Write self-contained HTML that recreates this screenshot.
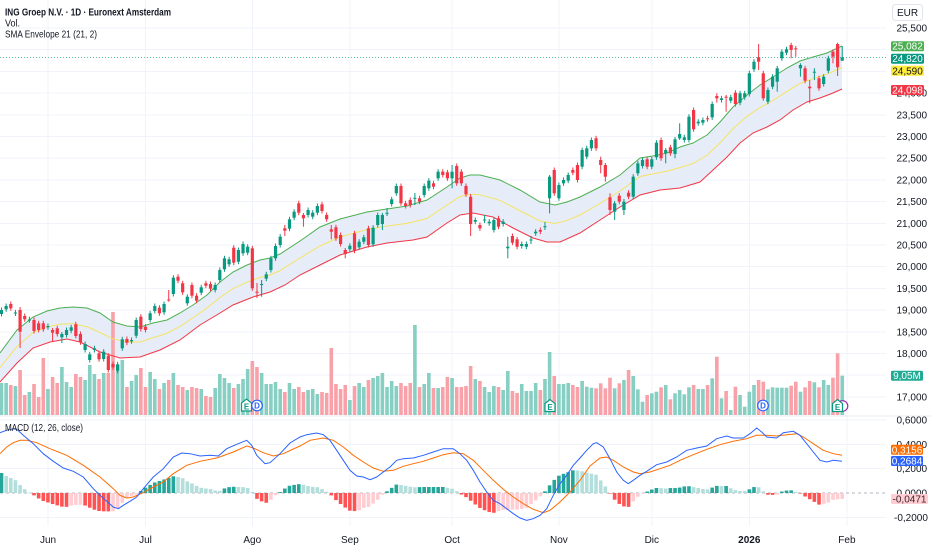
<!DOCTYPE html>
<html><head><meta charset="utf-8">
<style>
html,body{margin:0;padding:0;background:#fff;}
svg{display:block;font-family:"Liberation Sans",Arial,sans-serif;}
</style></head>
<body>
<svg id="c" width="932" height="550" viewBox="0 0 932 550" xmlns="http://www.w3.org/2000/svg">
<rect width="932" height="550" fill="#fff"/>
<g id="grid" stroke="#f0f3fa" stroke-width="1" shape-rendering="crispEdges">
<line x1="0" x2="886" y1="28" y2="28"/><line x1="0" x2="886" y1="49.7" y2="49.7"/><line x1="0" x2="886" y1="71.4" y2="71.4"/><line x1="0" x2="886" y1="93.1" y2="93.1"/><line x1="0" x2="886" y1="114.8" y2="114.8"/><line x1="0" x2="886" y1="136.5" y2="136.5"/><line x1="0" x2="886" y1="158.2" y2="158.2"/><line x1="0" x2="886" y1="179.9" y2="179.9"/><line x1="0" x2="886" y1="201.6" y2="201.6"/><line x1="0" x2="886" y1="223.3" y2="223.3"/><line x1="0" x2="886" y1="245" y2="245"/><line x1="0" x2="886" y1="266.7" y2="266.7"/><line x1="0" x2="886" y1="288.4" y2="288.4"/><line x1="0" x2="886" y1="310.1" y2="310.1"/><line x1="0" x2="886" y1="331.8" y2="331.8"/><line x1="0" x2="886" y1="353.5" y2="353.5"/><line x1="0" x2="886" y1="375.2" y2="375.2"/><line x1="0" x2="886" y1="396.9" y2="396.9"/>
<line x1="0" x2="886" y1="420.1" y2="420.1"/><line x1="0" x2="886" y1="444.4" y2="444.4"/><line x1="0" x2="886" y1="468.7" y2="468.7"/><line x1="0" x2="886" y1="517.3" y2="517.3"/>
<line x1="48" x2="48" y1="0" y2="526"/><line x1="145.5" x2="145.5" y1="0" y2="526"/><line x1="252.3" x2="252.3" y1="0" y2="526"/><line x1="349.9" x2="349.9" y1="0" y2="526"/><line x1="452.1" x2="452.1" y1="0" y2="526"/><line x1="558.9" x2="558.9" y1="0" y2="526"/><line x1="651.8" x2="651.8" y1="0" y2="526"/><line x1="749.3" x2="749.3" y1="0" y2="526"/><line x1="846.9" x2="846.9" y1="0" y2="526"/>
</g>
<line x1="0" x2="932" y1="416" y2="416" stroke="#e8ebf2" stroke-width="1"/>
<g id="band"></g>
<g id="vol"></g>
<g id="env"></g>
<line x1="0" x2="886" y1="57.5" y2="57.5" stroke="#5bbcaa" stroke-width="1" stroke-dasharray="1 2"/>
<g id="candles"></g>
<line x1="0" x2="886" y1="493" y2="493" stroke="#b2b5be" stroke-width="1" stroke-dasharray="3 3"/>
<g id="hist"></g>
<g id="macd"></g>

<!-- markers -->
<g font-size="8" font-weight="bold" text-anchor="middle">
<path d="M241.5,411 L241.5,403 L246.5,399 L251.5,403 L251.5,411 Z" fill="#fff" stroke="#089981" stroke-width="1.2"/>
<text x="246.5" y="409.3" fill="#089981">E</text>
<circle cx="257" cy="405.5" r="5.3" fill="#fff" stroke="#2962ff" stroke-width="1.2"/>
<text x="257" y="408.4" fill="#2962ff">D</text>
<path d="M545,411.5 L545,403.5 L550,399.5 L555,403.5 L555,411.5 Z" fill="#fff" stroke="#089981" stroke-width="1.2"/>
<text x="550" y="409.8" fill="#089981">E</text>
<circle cx="763" cy="405.5" r="5.3" fill="#fff" stroke="#2962ff" stroke-width="1.2"/>
<text x="763" y="408.4" fill="#2962ff">D</text>
<circle cx="842.5" cy="406" r="5.3" fill="#fff" stroke="#9c27b0" stroke-width="1.2"/>
<path d="M832.5,411.5 L832.5,403.5 L837.5,399.5 L842.5,403.5 L842.5,411.5 Z" fill="#fff" stroke="#089981" stroke-width="1.2"/>
<text x="837.5" y="409.8" fill="#089981">E</text>
</g>

<!-- legend -->
<g fill="#131722" font-size="10.5">
<text x="5" y="15.5" textLength="166" lengthAdjust="spacingAndGlyphs" font-weight="bold" style="font-weight:600">ING Groep N.V. · 1D · Euronext Amsterdam</text>
<text x="5" y="26.7" textLength="15" lengthAdjust="spacingAndGlyphs">Vol.</text>
<text x="5" y="37.7" textLength="92" lengthAdjust="spacingAndGlyphs">SMA Envelope 21 (21, 2)</text>
<text x="5" y="431" textLength="78" lengthAdjust="spacingAndGlyphs">MACD (12, 26, close)</text>
</g>

<!-- right axis -->
<rect x="892.5" y="4.5" width="30" height="16" rx="3" fill="#fff" stroke="#e0e3eb"/>
<text x="907.5" y="16" font-size="10" fill="#131722" text-anchor="middle">EUR</text>
<g fill="#131722" font-size="10">
<text x="896.5" y="31.5">25,500</text>
<text x="896.5" y="96.6">24,000</text>
<text x="896.5" y="118.3">23,500</text>
<text x="896.5" y="140">23,000</text>
<text x="896.5" y="161.7">22,500</text>
<text x="896.5" y="183.4">22,000</text>
<text x="896.5" y="205.1">21,500</text>
<text x="896.5" y="226.8">21,000</text>
<text x="896.5" y="248.5">20,500</text>
<text x="896.5" y="270.2">20,000</text>
<text x="896.5" y="291.9">19,500</text>
<text x="896.5" y="313.6">19,000</text>
<text x="896.5" y="335.3">18,500</text>
<text x="896.5" y="357">18,000</text>
<text x="896.5" y="400.4">17,000</text>
<text x="896.5" y="423.6">0,6000</text>
<text x="896.5" y="447.9">0,4000</text>
<text x="896.5" y="472.2">0,2000</text>
<text x="896.5" y="496.5">0,0000</text>
<text x="894" y="520.8">-0,2000</text>
</g>
<g font-size="10">
<rect x="891" y="41.2" width="33" height="10" rx="1.5" fill="#4caf50"/><text x="907.5" y="49.7" fill="#fff" text-anchor="middle">25,082</text>
<rect x="891" y="53.7" width="33" height="10" rx="1.5" fill="#089981"/><text x="907.5" y="62.2" fill="#fff" text-anchor="middle">24,820</text>
<rect x="891" y="65.8" width="33" height="10" rx="1.5" fill="#ffeb3b"/><text x="907.5" y="74.3" fill="#131722" text-anchor="middle">24,590</text>
<rect x="891" y="85" width="33" height="10" rx="1.5" fill="#f23645"/><text x="907.5" y="93.5" fill="#fff" text-anchor="middle">24,098</text>
<rect x="891" y="370.7" width="32" height="10" rx="1.5" fill="#22ab94"/><text x="907" y="379.2" fill="#fff" text-anchor="middle">9,05M</text>
<rect x="891" y="444.8" width="32" height="10" rx="1.5" fill="#ff6d00"/><text x="907" y="453.3" fill="#fff" text-anchor="middle">0,3156</text>
<rect x="891" y="456" width="32" height="10" rx="1.5" fill="#2962ff"/><text x="907" y="464.5" fill="#fff" text-anchor="middle">0,2684</text>
<rect x="891" y="494" width="37" height="10" rx="1.5" fill="#ffcdd2"/><text x="909.5" y="502.5" fill="#3a2a2c" text-anchor="middle">-0,0471</text>
</g>

<!-- time axis -->
<g fill="#131722" font-size="10" text-anchor="middle">
<text x="48" y="543">Jun</text>
<text x="145.5" y="543">Jul</text>
<text x="252.3" y="543">Ago</text>
<text x="349.9" y="543">Sep</text>
<text x="452.1" y="543">Oct</text>
<text x="558.9" y="543">Nov</text>
<text x="651.8" y="543">Dic</text>
<text x="749.3" y="543" font-weight="bold">2026</text>
<text x="846.9" y="543">Feb</text>
</g>
</svg>
<script>
(function(){
const X=i=>1.5+i*4.645;
const C=[[310,314,1],[306,309.3,1],[304,308.3,0],[312.5,313.5,1,310,316],[310,331.7,0,307,348],[316,319.3,0],[319.5,320.5,1,316.7,322.7],[320,331,0],[323.3,330,0],[323.3,329.3,0],
[326,327.3,1],[330,332.7,0,328,341.7],[328.3,334,0],[334,337.3,1,332,343],[330,335,1],[327.3,330.7,1],[324.3,336,0],[334,342.3,0],[344,350,1],[354.3,360,1],
[348.3,350,1],[353.3,359.3,0],[351.7,359,1],[355.7,370,0],[364,367.3,0],[364.3,370.7,1],[339.3,348.3,1],[339,342.7,0],[340,341.3,1],[320,335.7,1],
[316.7,329,0],[326.7,330,0],[313.3,320,1],[306,311,1],[307.7,313.3,0],[304,312.3,1],[299.5,300.5,0,290,301.7],[277.7,294,1],[276.7,280.7,0],[283.3,292.3,0],
[296.7,303.3,1],[285,295.7,0],[295.7,300.7,0],[287.3,292.7,1],[283.3,285.7,0],[284,288.7,0],[285,290,1],[270,280,1],[258.3,269.3,1],[259.3,264.3,1],
[247.7,262.7,0],[250,261.7,1],[244,253.3,1],[246.7,252.7,1],[248.3,288.3,0],[291.7,292.7,0,283,298],[284,285,1,280,296.7],[274.3,278.7,1],[258.3,270,1],[246,258.3,1],
[236.7,245,1],[228.3,230.7,0,225,236],[219.3,228.7,1],[211.7,217.7,1],[203.3,212.7,0],[215,218.3,0,213,226.7],[210,215,1],[212.7,216.7,1],[206,212.7,1],[204.3,211,0],
[215,219.3,0],[229.3,231.7,0,225,239.3],[227.3,238.3,0],[235,244,0],[250,254,0,248,258.3],[245.7,249.3,1],[233.3,250.7,0],[241.7,247.3,1],[237.3,241.7,1],[228.3,245,0],
[227.7,244.3,1],[215,225,1],[215,224,1,213,230],[212.8,213.8,1,208,216],[199.3,204,1],[186,193.3,1],[186,203.3,0],[203.3,206,0],[200,205,0],[197.8,198.8,1,193,205],
[198.3,201.7,0],[186,195,1],[180.7,188.3,1],[183.3,186.7,0],[171.7,178.3,1],[171.7,175,0],[172.3,178.3,0],[171.7,178.3,1,165,188.3],[166,183.3,0],[171.7,183.3,0],
[186,194.3,0],[196.7,224,0,194,236],[220,221.7,1],[225,228.3,0],[219.5,220.5,1,215,223],[221.7,223.3,1],[220,230,1],[218.3,226.7,0],[221.7,224,1],[246.7,248.3,1,236.7,258.3],
[236,242.7,0],[239.3,246.7,0],[244,246,1],[244,246.7,1],[239.5,240.5,1,236,244],[231.7,233.3,1],[230,231.7,0],[226.2,227.2,1,222,230],[176.7,198.3,1,175,213.3],[170,193.3,0],
[185,198.3,1],[180,183.3,1],[175,180.7,1],[170,172.7,0],[165,180,0],[150,166.7,1],[148.3,156.7,1],[140,148.3,1],[138.3,148.3,0],[160,165,0,156.7,173.3],
[165,176.7,0,163,181.7],[197.3,210,0,193.3,215],[203.3,211.7,1,201,220],[195.7,201.7,0],[201.7,210,1,199,215],[192.7,196.7,0],[176.7,196.7,1],[163.3,173.3,1],[160,166,1],[159.3,166.7,0],
[159.3,166.7,1],[142.7,157.3,1],[140,158.3,0],[150,153.3,1,148,163.3],[147.3,153.3,0],[139.3,154,1,137,158.3],[134,138.3,1,123.3,140],[137.3,140,1],[116.7,140,1],[110,129.3,0],
[121.7,123.3,1],[120,122.7,1],[118.3,119.3,0],[104,117.3,1],[96,98.3,0,93.3,102.7],[98.3,100,1],[96.7,97.7,0,95,111.7],[97.3,100.7,1],[92.7,104,0],[93.3,102.7,1],
[93.3,97.3,1],[73.3,94,1],[61.7,69.3,1],[57.3,61.7,0,44,70],[73.3,98.3,0],[90,101.7,1],[76.7,86.7,1],[68.3,81.7,1,66,91.7],[51.7,58.3,1],[49.3,52.7,1],
[45,50,0,42.7,58.3],[48.3,49.3,0,46,56.7],[65,68.3,1,63.3,76.7],[68.3,80.7,0],[86.7,88.3,0,80,103.3],[71.7,72.7,1,68.3,80],[78.3,88.3,0],[76.7,84,1],[58.3,70.7,1],[51.7,56.7,0,49.3,63.3],
[44,67.3,0,42.7,76],[57.5,60.7,1,46,60.7]];
const V=[383,383,385,386,370,395,392,384,397,358,389,377,383,367,382,387,374,377,380,365,374,379,373,373,312,365,360,387,381,375,368,387,372,379,389,383,380,373,385,387,390,387,388,389,396,397,388,374,378,383,388,384,379,369,361,367,373,384,384,382,389,392,383,389,387,392,390,389,394,392,393,348,384,389,385,400,386,383,387,380,378,376,373,387,381,386,383,386,383,325,387,384,373,388,388,387,377,378,387,387,386,366,379,381,387,392,386,387,390,371,391,393,384,391,391,383,390,379,352,376,384,384,383,385,387,381,386.7,387.7,388.3,383.3,388.3,377.7,388.3,383.3,380,370,376,389.3,401.7,395,393.3,391.7,387.3,385,399.3,393.3,390,394.3,387.3,385,389,389,385,378.3,356.7,398.3,391,410,386.7,395,406.7,391.7,385,380,381.7,389.3,387.3,387.7,387.7,387.7,385.7,381.7,391.7,387.3,381,382.3,387.3,380,385,377.7,353.3,375.7];
const UP=[[0,353],[17,330],[33,317],[47,311],[60,308],[73,307],[87,308],[100,313],[113,322],[127,326],[140,327],[153,323],[167,320],[180,313],[193,305],[207,295],[220,282],[233,272],[247,265],[260,260],[270,258],[280,254],[300,241],[320,227],[340,219],[367,212],[387,209],[407,206],[427,200],[447,187],[460,178],[470,175],[480,175],[500,180],[520,190],[540,202],[555,205],[567,202],[580,197],[600,187],[620,175],[640,158],[653,156],[667,153],[680,147],[693,143],[707,135],[720,122],[733,107],[747,95],[760,85],[773,77],[787,68],[800,61],[813,57],[827,53],[842,46]];
const LO=[[0,382],[17,363],[33,348],[50,342],[67,339],[80,342],[100,352],[120,358],[140,357],[160,350],[180,340],[200,325],[220,313],[233,305],[253,297],[270,292],[285,285],[300,275],[320,265],[340,255],[367,247],[387,243],[413,240],[427,237],[447,223],[460,215],[473,213],[493,217],[513,228],[533,238],[547,242],[560,242],[580,233],[600,220],[620,207],[640,195],[660,190],[680,188],[700,182],[713,170],[727,157],[740,143],[753,133],[767,127],[780,120],[793,110],[807,102],[820,98],[833,93],[842,89]];
const MB=[[0,432.7],[6.7,430.3],[13.3,428.7],[16.7,429.3],[23.3,435.3],[33.3,443.7],[43.3,453.7],[53.3,461.3],[63.3,468],[73.3,471.3],[83.3,477],[93.3,488.7],[100,495.3],[106.7,501.3],[113.3,507],[118.3,508.7],[123.3,505.3],[130,501.3],[136.7,497],[143.3,488.7],[153.3,477],[163.3,468.7],[173.3,457],[181.7,453],[190,453.7],[200,456],[210,455.3],[218.3,456],[226.7,448.7],[236.7,444.3],[246.7,440.3],[251.7,445.3],[256.7,455.3],[265,463.7],[270,462.7],[280,453.7],[290,443],[300,437],[306.7,434.7],[316.7,433],[323.3,434.7],[330,440.3],[336.7,450.3],[343.3,460.3],[350,470.3],[356.7,476],[363.3,477],[370,479.7],[376.7,477],[383.3,472],[390,467],[396.7,460.3],[403.3,458.7],[413.3,458],[423.3,455.3],[433.3,452],[443.3,448.7],[453.3,448.7],[460,453.7],[466.7,460.3],[473.3,470.3],[480,482],[486.7,492],[493.3,500.3],[500,503.7],[506.7,508.7],[513.3,513.7],[520,518],[526.7,520.3],[533.3,518.7],[540,515.3],[546.7,508.7],[553.3,495.3],[560,483.7],[566.7,475.3],[573.3,465.3],[580,458],[586.7,450.3],[593.3,443.7],[596.7,442.7],[603.3,447],[610,458.7],[616.7,472],[623.3,480.3],[628.3,483.7],[633.3,480.3],[640,475.3],[646.7,471.3],[656.7,464.7],[666.7,462],[676.7,457],[686.7,450.3],[696.7,448],[706.7,446],[716.7,438.7],[726.7,436],[733.3,438],[743.3,438],[750,433.7],[756.7,428],[761.7,432],[766.7,437],[776.7,438],[783.3,432.7],[793.3,431.3],[800,435.3],[806.7,443.7],[813.3,452],[820,460.3],[826.7,462],[833.3,460.3],[842,461.3]];
const MS=[[0,453.7],[6.7,447],[13.3,442.7],[20,440.3],[26.7,440.3],[36.7,442.7],[50,448.7],[66.7,455.3],[83.3,465.3],[100,477],[113.3,488.7],[120,495.3],[126.7,498],[133.3,497],[143.3,492.7],[153.3,487],[163.3,482],[173.3,473.7],[186.7,465.3],[200,461.3],[216.7,458],[233.3,452],[246.7,446],[253.3,448],[263.3,452.7],[273.3,456],[283.3,453.7],[293.3,449],[300,446],[310,440.3],[323.3,438],[333.3,440.3],[343.3,447],[353.3,455.3],[363.3,462],[373.3,468],[383.3,471.3],[393.3,470.3],[403.3,466.3],[413.3,463.7],[423.3,461.3],[433.3,458],[443.3,454.7],[453.3,452.7],[463.3,453.7],[473.3,460.3],[483.3,470.3],[493.3,480.3],[503.3,489.3],[513.3,497],[523.3,503.7],[533.3,509.3],[543.3,512.7],[550,510.3],[560,502],[570,492],[580,480.3],[590,466],[600,458],[606.7,457],[613.3,460.3],[623.3,467],[633.3,472],[640,473.7],[650,472],[660,468.7],[670,465.3],[680,460.3],[693.3,454.7],[706.7,449.3],[720,444.7],[733.3,441.3],[746.7,438.7],[756.7,435.3],[766.7,435.3],[776.7,436],[786.7,434.7],[796.7,433.7],[803.3,437],[813.3,443.7],[823.3,450.3],[833.3,453.7],[842,455.3]];
function interp(p,x){if(x<=p[0][0])return p[0][1];for(let k=1;k<p.length;k++){if(x<=p[k][0]){const a=p[k-1],b=p[k];return a[1]+(b[1]-a[1])*(x-a[0])/(b[0]-a[0]);}}return p[p.length-1][1];}
const pts=p=>p.map(q=>q[0]+','+q[1]).join(' ');
let mid=UP.map(q=>[q[0],(q[1]+interp(LO,q[0]))/2]);
document.getElementById('band').innerHTML='<polygon points="'+pts(UP)+' '+pts(LO.slice().reverse())+'" fill="#e7ecf9"/>';
document.getElementById('env').innerHTML='<polyline points="'+pts(UP)+'" fill="none" stroke="#4caf50" stroke-width="1"/>'+
'<polyline points="'+pts(mid)+'" fill="none" stroke="#f5e463" stroke-width="1"/>'+
'<polyline points="'+pts(LO)+'" fill="none" stroke="#f23645" stroke-width="1"/>';
let s='';
for(let i=0;i<V.length;i++){const x=X(i);const g=C[i][2];s+='<rect x="'+(x-1.8).toFixed(2)+'" y="'+V[i]+'" width="3.6" height="'+(415-V[i]).toFixed(2)+'" fill="'+(g?'#86cfc2':'#f8a1a8')+'"/>';}
document.getElementById('vol').innerHTML=s;
s='';
for(let i=0;i<C.length;i++){const c=C[i];const x=X(i);const col=c[2]?'#089981':'#f23645';let t=c[0],b=c[1];if(b-t<1){b=t+1;}
const wt=c[3]!==undefined?c[3]:t-2.5,wb=c[4]!==undefined?c[4]:b+2.5;
s+='<rect x="'+(x-0.5).toFixed(2)+'" y="'+wt+'" width="1" height="'+(wb-wt).toFixed(2)+'" fill="'+col+'"/>';
s+='<rect x="'+(x-1.6).toFixed(2)+'" y="'+t+'" width="3.2" height="'+(b-t).toFixed(2)+'" fill="'+col+'"/>';}
document.getElementById('candles').innerHTML=s;
s='';let prev=null;
for(let i=0;i<C.length;i++){const x=X(i);const v=-(interp(MB,x)-interp(MS,x));let col;
if(v>=0){col=(prev===null||v>=prev)?'#26a69a':'#b2dfdb';}else{col=(prev===null||v<prev)?'#ff5252':'#ffcdd2';}
prev=v;const y0=v>=0?493-v:493;const h=Math.max(Math.abs(v),0.6);
s+='<rect x="'+(x-1.8).toFixed(2)+'" y="'+y0.toFixed(2)+'" width="3.6" height="'+h.toFixed(2)+'" fill="'+col+'"/>';}
document.getElementById('hist').innerHTML=s;
document.getElementById('macd').innerHTML='<polyline points="'+pts(MS)+'" fill="none" stroke="#ff6d00" stroke-width="1"/>'+
'<polyline points="'+pts(MB)+'" fill="none" stroke="#2962ff" stroke-width="1"/>';
})();
</script>
</body></html>
